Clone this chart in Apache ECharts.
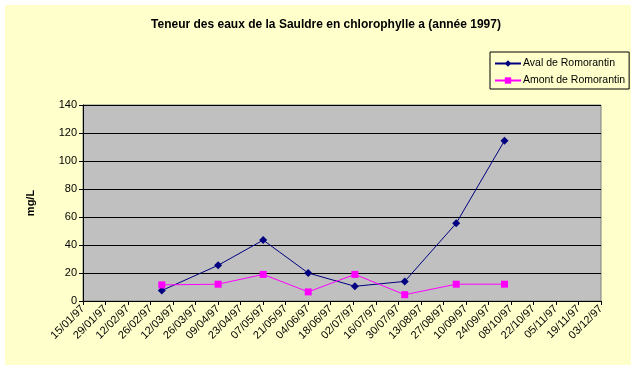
<!DOCTYPE html>
<html><head><meta charset="utf-8">
<script src="https://cdn.jsdelivr.net/npm/echarts@6/dist/echarts.min.js"></script>
<style>html,body{margin:0;padding:0;background:#fff}#c{width:636px;height:369px}</style>
</head><body><div id="c"></div>
<script>
const titleText = "Teneur des eaux de la Sauldre en chlorophylle a (année 1997)";
const yAxisName = "mg/L";
const axisStart = "1997-01-15";
const axisEnd = "1997-12-03";
const tickDays = 14;
const yTicks = [0, 20, 40, 60, 80, 100, 120, 140];
const sampleDates = ["1997-03-05","1997-04-09","1997-05-07","1997-06-04","1997-07-03","1997-08-03","1997-09-04","1997-10-04"];
const avalName = "Aval de Romorantin";
const avalValues = [7.5, 25.5, 43.5, 20, 10.5, 14, 55.5, 114.5];
const amontName = "Amont de Romorantin";
const amontValues = [11.5, 12, 19, 6.5, 19, 4.5, 12, 12];

function dayNum(s){const p=s.split('-').map(Number);return Date.UTC(p[0],p[1]-1,p[2])/86400000;}
const d0 = dayNum(axisStart);
const off = s => dayNum(s) - d0;
function fmt(v){
  const d = new Date((d0 + v) * 86400000);
  const dd = String(d.getUTCDate()).padStart(2,'0');
  const mm = String(d.getUTCMonth()+1).padStart(2,'0');
  const yy = String(d.getUTCFullYear()).slice(2);
  return dd + '/' + mm + '/' + yy;
}
const font = 'Arial, "Liberation Sans", sans-serif';
const chart = echarts.init(document.getElementById('c'), null, {renderer:'canvas'});
chart.setOption({
  backgroundColor: '#ffffff',
  animation: false,
  graphic: [{type:'rect', z:-100, silent:true, shape:{x:5,y:5,width:626,height:360}, style:{fill:'#FFFFCC'}}],
  title: {text: titleText, left: 321, top: 14, textAlign: 'center',
    textStyle: {fontFamily: font, fontSize: 12, fontWeight: 'bold', color: '#000'}},
  legend: {orient: 'vertical', left: 490, top: 52,
    padding: [6, 4, 3, 4], itemGap: 6, itemWidth: 26, itemHeight: 8,
    borderColor: '#000', borderWidth: 1, backgroundColor: 'transparent',
    textStyle: {fontFamily: font, fontSize: 10.5, color: '#000', padding:[0,0,0,-3]},
    data: [avalName, amontName]},
  grid: {left: 83, right: 35, top: 105, bottom: 68, show: true,
    backgroundColor: '#C0C0C0', borderColor: '#808080', borderWidth: 1},
  xAxis: {type: 'value', min: 0, max: off(axisEnd), interval: tickDays,
    axisLine: {show: true, onZero: false, lineStyle: {color: '#000', width: 1}},
    axisTick: {show: true, length: 4, lineStyle: {color: '#000'}},
    splitLine: {show: false},
    axisLabel: {rotate: 45, margin: 6, formatter: fmt, fontFamily: font, fontSize: 11, color: '#000'}},
  yAxis: {type: 'value', min: yTicks[0], max: yTicks[yTicks.length-1], interval: yTicks[1]-yTicks[0],
    name: yAxisName, nameLocation: 'middle', nameGap: 47, nameRotate: 90,
    nameTextStyle: {fontFamily: font, fontSize: 11, fontWeight: 'bold', color: '#000'},
    axisLine: {show: true, lineStyle: {color: '#000', width: 1}},
    axisTick: {show: true, length: 4, lineStyle: {color: '#000'}},
    splitLine: {show: true, lineStyle: {color: '#000', width: 1}},
    axisLabel: {margin: 6, fontFamily: font, fontSize: 11, color: '#000'}},
  series: [
    {name: avalName, type: 'line', symbol: 'diamond', symbolSize: 8,
     itemStyle: {color: '#000080'}, lineStyle: {color: '#000080', width: 1},
     data: sampleDates.map((d,i)=>[off(d), avalValues[i]])},
    {name: amontName, type: 'line', symbol: 'rect', symbolSize: 7,
     itemStyle: {color: '#FF00FF'}, lineStyle: {color: '#FF00FF', width: 1},
     data: sampleDates.map((d,i)=>[off(d), amontValues[i]])}
  ]
});
</script></body></html>
